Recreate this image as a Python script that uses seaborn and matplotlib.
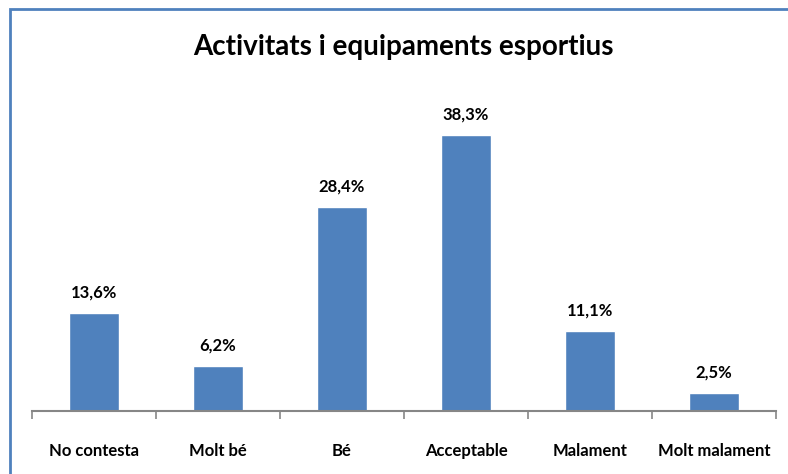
import matplotlib
matplotlib.use("Agg")
import matplotlib.pyplot as plt
import seaborn as sns
import pandas as pd
from matplotlib.patches import Rectangle

categories = ["No contesta", "Molt bé", "Bé", "Acceptable", "Malament", "Molt malament"]
values = [13.6, 6.2, 28.4, 38.3, 11.1, 2.5]
labels = ["13,6%", "6,2%", "28,4%", "38,3%", "11,1%", "2,5%"]

sns.set_theme(style="white")
plt.rcParams['font.family'] = ['Lato', 'DejaVu Sans']

df = pd.DataFrame({"cat": categories, "val": values})

W, H = 788, 474
fig = plt.figure(figsize=(W / 100, H / 100), dpi=100)
fig.patch.set_facecolor("white")
ax = fig.add_axes([32 / W, (H - 411) / H, (776 - 32) / W, (411 - 100) / H])

sns.barplot(data=df, x="cat", y="val", color="#4F81BD", saturation=1,
            width=0.41, ax=ax)
ax.set_ylim(0, 311 / 7.2)
ax.set_xlim(-0.5, len(categories) - 0.5)

for i, (v, lab) in enumerate(zip(values, labels)):
    ax.annotate(lab, (i, v), xytext=(0, 9), textcoords="offset points",
                ha="center", va="bottom", fontsize=12, fontweight="bold",
                color="black")

for s in ["top", "right", "left"]:
    ax.spines[s].set_visible(False)
ax.spines["bottom"].set_color("#868686")
ax.spines["bottom"].set_linewidth(1.5)
ax.set_yticks([])
ax.set_xlabel("")
ax.set_ylabel("")
ax.set_xticks([x - 0.5 for x in range(len(categories) + 1)], minor=True)
ax.tick_params(axis="x", which="minor", bottom=True, length=6, width=1.2,
               color="#868686")
ax.tick_params(axis="x", which="major", bottom=False, pad=17)
ax.set_xticks(range(len(categories)))
ax.set_xticklabels(categories, fontsize=12, fontweight="bold", color="black")

fig.text(403 / W, 1 - 47 / H, "Activitats i equipaments esportius",
         ha="center", va="center", fontsize=20, fontweight="bold", color="black")

fig.patches.append(Rectangle((9.5 / W, -0.1), 1.2, 1.1 - 9.5 / H,
                             transform=fig.transFigure, fill=False,
                             edgecolor="#4F81BD", linewidth=2.0))

fig.savefig("out.png", dpi=100)
